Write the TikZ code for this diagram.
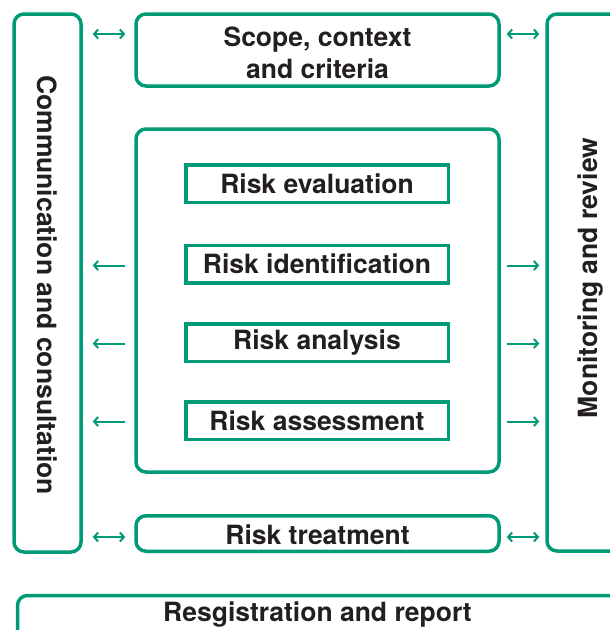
\documentclass[tikz,border=0pt]{standalone}
\usepackage{fontspec}
\setmainfont{TeX Gyre Heros}
\usetikzlibrary{arrows.meta}
\definecolor{grn}{RGB}{0,154,118}
\definecolor{txt}{RGB}{35,31,32}
\newcommand\dfont{\fontsize{26.5}{32}\selectfont\bfseries}
\begin{document}
\begin{tikzpicture}[x=1pt,y=-1pt,
  gbox/.style={draw=grn, line width=3.5pt, rounded corners=10pt, inner sep=0pt, text=txt, font=\dfont, align=center},
  sbox/.style={draw=grn, line width=3.5pt, inner sep=0pt, minimum width=262.5pt, minimum height=37.5pt, text=txt, font=\dfont},
  ttext/.style={text=txt, font=\dfont, inner sep=0pt},
  lnk/.style={draw=grn, line width=2pt, >={Straight Barb[length=4pt,width=9pt]}}]
\useasboundingbox (0,0) rectangle (610,630);
\clip (0,0) rectangle (610,630);
% boxes
\node[gbox, minimum width=67pt, minimum height=538pt] (comm) at (47.5,283) {};
\node[ttext, rotate=-90] (commtxt) at (47,285) {Communication and consultation};
\node[gbox, minimum width=86pt, minimum height=537pt] (mon) at (590,282.5) {};
\node[ttext, rotate=90] (montxt) at (590.5,278) {Monitoring and review};
\node[gbox, minimum width=363pt, minimum height=72pt] (scope) at (317.5,50) {};
\node[ttext, align=center] (scopetxt) at (317.5,53) {Scope, context\\and criteria};
\node[gbox, minimum width=363pt, minimum height=343pt] (mid) at (317.5,300.5) {};
\node[sbox] (eval) at (317,183.5) {Risk evaluation};
\node[sbox] (ident) at (317,264) {Risk identification};
\node[sbox] (anal) at (317,342.5) {Risk analysis};
\node[sbox] (assess) at (317,420.5) {Risk assessment};
\node[gbox, minimum width=363pt, minimum height=35.5pt] (treat) at (317.5,533.5) {};
\node[ttext] (treattxt) at (317.5,535) {Risk treatment};
\node[gbox, minimum width=700pt, minimum height=80pt, anchor=north west] (reg) at (15.75,593.75) {};
\node[ttext] (regtxt) at (317.5,614.5) {Resgistration and report};
% levels
\coordinate (ya) at (0,34);
\coordinate (yb) at (0,265.5);
\coordinate (yc) at (0,343.5);
\coordinate (yd) at (0,421.5);
\coordinate (ye) at (0,537);
% connectors
\draw[lnk,<->,shorten <=10pt,shorten >=9pt] (comm.east |- ya) -- (scope.west |- ya);
\draw[lnk,<->,shorten <=6pt,shorten >=6pt] (scope.east |- ya) -- (mon.west |- ya);
\foreach \yy in {yb,yc,yd}{
  \draw[lnk,->,shorten <=9pt,shorten >=10pt] (mid.west |- \yy) -- (comm.east |- \yy);
  \draw[lnk,->,shorten <=6pt,shorten >=6pt] (mid.east |- \yy) -- (mon.west |- \yy);
}
\draw[lnk,<->,shorten <=10pt,shorten >=9pt] (comm.east |- ye) -- (treat.west |- ye);
\draw[lnk,<->,shorten <=6pt,shorten >=6pt] (treat.east |- ye) -- (mon.west |- ye);
\end{tikzpicture}
\end{document}
